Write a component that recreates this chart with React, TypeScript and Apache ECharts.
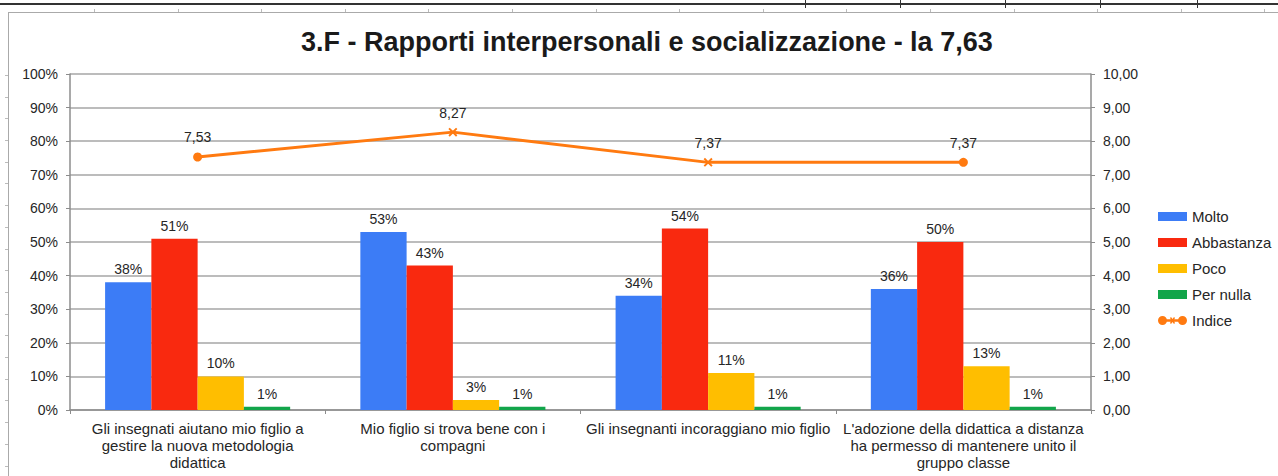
import React, { useEffect, useRef } from "react";
import * as echarts from "echarts";

const categories = [
  "Gli insegnati aiutano mio figlio a\ngestire la nuova metodologia\ndidattica",
  "Mio figlio si trova bene con i\ncompagni",
  "Gli insegnanti incoraggiano mio figlio",
  "L'adozione della didattica a distanza\nha permesso di mantenere unito il\ngruppo classe",
];
const molto = [38, 53, 34, 36];
const abbastanza = [51, 43, 54, 50];
const poco = [10, 3, 11, 13];
const perNulla = [1, 1, 1, 1];
const indice = [7.53, 8.27, 7.37, 7.37];
const leftTicks = [0, 10, 20, 30, 40, 50, 60, 70, 80, 90, 100];
const rightTicks = [0, 1, 2, 3, 4, 5, 6, 7, 8, 9, 10];

const XMARK = "path://M0,1.5L1.5,0L5,3.5L8.5,0L10,1.5L6.5,5L10,8.5L8.5,10L5,6.5L1.5,10L0,8.5L3.5,5Z";
const indiceSymbols = ["circle", XMARK, XMARK, "circle"];
const LEGEND_LINE_ICON =
  "path://M0,4.5A4.5,4.5 0 1,1 9,4.5A4.5,4.5 0 1,1 0,4.5Z" +
  "M20,4.5A4.5,4.5 0 1,1 29,4.5A4.5,4.5 0 1,1 20,4.5Z" +
  "M4,3.3L25,3.3L25,5.7L4,5.7Z" +
  "M12,2L13,1L14.5,3L16,1L17,2L15.5,4.5L17,7L16,8L14.5,6L13,8L12,7L13.5,4.5Z";

const FONT = "'Liberation Sans', Arial, sans-serif";
const LABEL_COLOR = "#262626";

export default function App() {
  const ref = useRef<HTMLDivElement>(null);
  useEffect(() => {
    if (!ref.current) return;
    const chart = echarts.init(ref.current, null, { renderer: "svg" });
    const barLabel = {
      show: true,
      position: "top",
      distance: 6,
      formatter: (p: any) => p.value + "%",
      color: LABEL_COLOR,
      fontSize: 14,
      fontFamily: FONT,
    };
    const mkBar = (name: string, data: number[], color: string) => ({
      name,
      type: "bar",
      data,
      barGap: "0%",
      barCategoryGap: "27.5%",
      itemStyle: { color },
      label: barLabel,
      yAxisIndex: 0,
    });
    const rulerX: any[] = [];
    for (let x = 94; x < 1278; x += 83.6) {
      rulerX.push({
        type: "line",
        shape: { x1: Math.round(x) + 0.5, y1: 9, x2: Math.round(x) + 0.5, y2: 12 },
        style: { stroke: "#bbb", lineWidth: 1 },
        silent: true,
      });
    }
    const rulerY: any[] = [];
    for (let y = 75; y < 476; y += 21.7) {
      rulerY.push({
        type: "line",
        shape: { x1: 5, y1: Math.round(y) + 0.5, x2: 8, y2: Math.round(y) + 0.5 },
        style: { stroke: "#bbb", lineWidth: 1 },
        silent: true,
      });
    }
    const topCols = [805, 900, 1005, 1100, 1197].map((x) => ({
      type: "line",
      shape: { x1: x + 0.5, y1: 0, x2: x + 0.5, y2: 8 },
      style: { stroke: "#333", lineWidth: 1 },
      silent: true,
    }));
    chart.setOption({
      animation: false,
      backgroundColor: "#ffffff",
      textStyle: { fontFamily: FONT },
      title: {
        text: "3.F - Rapporti interpersonali e socializzazione - la 7,63",
        left: 301,
        top: 28,
        padding: 0,
        textStyle: { fontSize: 27, fontWeight: "bold", color: "#1a1a1a", fontFamily: FONT },
      },
      graphic: [
        { type: "rect", shape: { x: 0, y: 3, width: 1278, height: 2 }, style: { fill: "#333" }, silent: true },
        ...topCols,
        { type: "line", shape: { x1: 8, y1: 12.5, x2: 1278, y2: 12.5 }, style: { stroke: "#aaa", lineWidth: 1 }, silent: true },
        { type: "line", shape: { x1: 8.5, y1: 12, x2: 8.5, y2: 476 }, style: { stroke: "#aaa", lineWidth: 1 }, silent: true },
        ...rulerX,
        ...rulerY,
      ],
      legend: {
        orient: "vertical",
        left: 1158,
        top: 209,
        padding: 0,
        itemWidth: 29,
        itemHeight: 9,
        itemGap: 11,
        icon: "rect",
        textStyle: { fontSize: 15, lineHeight: 15, color: LABEL_COLOR, fontFamily: FONT },
        data: [
          { name: "Molto", icon: "rect" },
          { name: "Abbastanza", icon: "rect" },
          { name: "Poco", icon: "rect" },
          { name: "Per nulla", icon: "rect" },
          { name: "Indice", icon: LEGEND_LINE_ICON },
        ],
      },
      grid: { left: 70, right: 187, top: 74, bottom: 66, containLabel: false },
      xAxis: {
        type: "category",
        data: categories,
        axisLine: { lineStyle: { color: "#8c8c8c", width: 1.5 } },
        axisTick: { show: true, length: 4, lineStyle: { color: "#8c8c8c" } },
        axisLabel: {
          color: LABEL_COLOR,
          fontSize: 15,
          lineHeight: 17,
          margin: 10,
          interval: 0,
          fontFamily: FONT,
        },
      },
      yAxis: [
        {
          type: "value",
          min: 0,
          max: 100,
          interval: 10,
          axisLine: { show: true, lineStyle: { color: "#8c8c8c", width: 1.5 } },
          axisTick: { show: true, length: 4, lineStyle: { color: "#8c8c8c" } },
          splitLine: { show: true, lineStyle: { color: "#a6a6a6", width: 1.5 } },
          axisLabel: {
            color: LABEL_COLOR,
            fontSize: 14,
            margin: 12,
            fontFamily: FONT,
            formatter: (v: number) => (leftTicks.includes(v) ? v + "%" : ""),
          },
        },
        {
          type: "value",
          min: 0,
          max: 10,
          interval: 1,
          position: "right",
          axisLine: { show: true, lineStyle: { color: "#8c8c8c", width: 1.5 } },
          axisTick: { show: true, length: 4, lineStyle: { color: "#8c8c8c" } },
          splitLine: { show: false },
          axisLabel: {
            color: LABEL_COLOR,
            fontSize: 14,
            margin: 12,
            fontFamily: FONT,
            formatter: (v: number) => (rightTicks.includes(v) ? v.toFixed(2).replace(".", ",") : ""),
          },
        },
      ],
      series: [
        mkBar("Molto", molto, "#3C7CF6"),
        mkBar("Abbastanza", abbastanza, "#F9290F"),
        mkBar("Poco", poco, "#FFBE00"),
        mkBar("Per nulla", perNulla, "#12A54A"),
        {
          name: "Indice",
          type: "line",
          yAxisIndex: 1,
          data: indice.map((v, i) => ({
            value: v,
            symbol: indiceSymbols[i],
            symbolSize: 9,
          })),
          symbol: "circle",
          symbolSize: 9,
          lineStyle: { color: "#FF7A10", width: 3 },
          itemStyle: { color: "#FF7A10" },
          label: {
            show: true,
            position: "top",
            distance: 8,
            color: LABEL_COLOR,
            fontSize: 14,
            fontFamily: FONT,
            formatter: (p: any) => Number(p.value).toFixed(2).replace(".", ","),
          },
        },
      ],
    });
    return () => chart.dispose();
  }, []);
  return (
    <div
      ref={ref}
      style={{ position: "fixed", left: 0, top: 0, width: 1278, height: 476, background: "#fff" }}
    />
  );
}
